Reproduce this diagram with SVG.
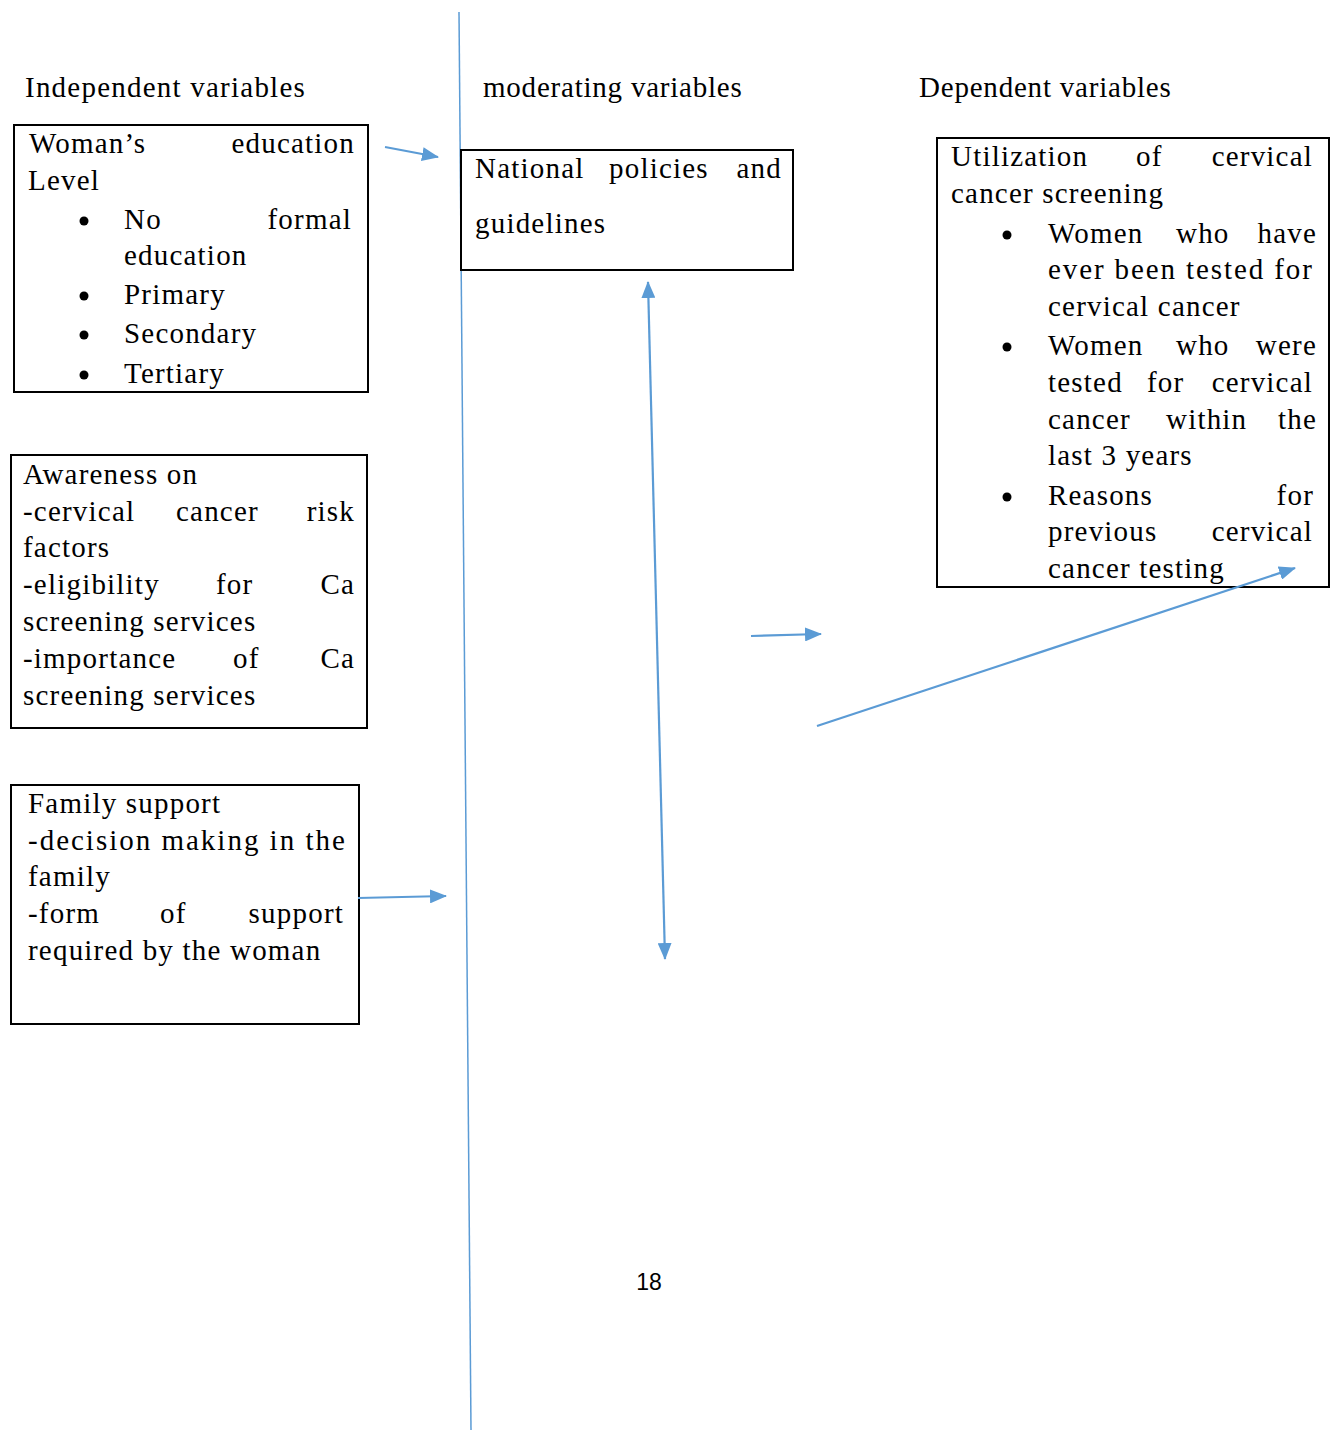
<svg xmlns="http://www.w3.org/2000/svg" width="1333" height="1431" viewBox="0 0 1333 1431">
<style>
.t{font-family:"Liberation Serif","Times New Roman",serif;font-size:29px;fill:#000;letter-spacing:1.2px}
.e{text-anchor:end}
.box{fill:#fff;stroke:#000;stroke-width:2}
.c{stroke:#5B9BD5;stroke-width:2.2;fill:none}
.b{fill:#000}
</style>
<defs>
<marker id="ah" markerUnits="userSpaceOnUse" markerWidth="18" markerHeight="14" refX="16" refY="7" orient="auto-start-reverse">
<path d="M0,0 L17,7 L0,14 Z" fill="#5B9BD5"/>
</marker>
</defs>
<rect width="1333" height="1431" fill="#fff"/>
<line x1="459" y1="12" x2="471" y2="1430" stroke="#5B9BD5" stroke-width="1.5"/>

<g id="headers">
<text class="t" x="25" y="97" textLength="281">Independent variables</text>
<text class="t" x="483" y="97" textLength="260">moderating variables</text>
<text class="t" x="919" y="97" textLength="253">Dependent variables</text>
</g>

<g id="node-education">
<rect class="box" x="14" y="125" width="354" height="267"/>
<text class="t" x="29" y="153">Woman’s</text><text class="t e" x="355" y="153">education</text>
<text class="t" x="28" y="190">Level</text>
<circle class="b" cx="84" cy="221" r="4.5"/><text class="t" x="124" y="229">No</text><text class="t e" x="352" y="229">formal</text>
<text class="t" x="124" y="265">education</text>
<circle class="b" cx="84" cy="296" r="4.5"/><text class="t" x="124" y="304">Primary</text>
<circle class="b" cx="84" cy="335" r="4.5"/><text class="t" x="124" y="343">Secondary</text>
<circle class="b" cx="84" cy="375" r="4.5"/><text class="t" x="124" y="383">Tertiary</text>
</g>

<g id="node-awareness">
<rect class="box" x="11" y="455" width="356" height="273"/>
<text class="t" x="23" y="484">Awareness on</text>
<text class="t" x="23" y="521">-cervical</text><text class="t" x="176" y="521">cancer</text><text class="t e" x="355" y="521">risk</text>
<text class="t" x="23" y="557">factors</text>
<text class="t" x="23" y="594">-eligibility</text><text class="t" x="216" y="594">for</text><text class="t e" x="355" y="594">Ca</text>
<text class="t" x="23" y="631">screening services</text>
<text class="t" x="23" y="668">-importance</text><text class="t" x="233" y="668">of</text><text class="t e" x="355" y="668">Ca</text>
<text class="t" x="23" y="705">screening services</text>
</g>

<g id="node-family">
<rect class="box" x="11" y="785" width="348" height="239"/>
<text class="t" x="28" y="813">Family support</text>
<text class="t" x="28" y="850" textLength="318">-decision making in the</text>
<text class="t" x="28" y="886">family</text>
<text class="t" x="28" y="923">-form</text><text class="t" x="160" y="923">of</text><text class="t e" x="344" y="923">support</text>
<text class="t" x="28" y="960">required by the woman</text>
</g>

<g id="node-policies">
<rect class="box" x="461" y="150" width="332" height="120"/>
<text class="t" x="475" y="178">National</text><text class="t" x="609" y="178">policies</text><text class="t e" x="782" y="178">and</text>
<text class="t" x="475" y="233">guidelines</text>
</g>

<g id="node-utilization">
<rect class="box" x="937" y="138" width="392" height="449"/>
<text class="t" x="951" y="166">Utilization</text><text class="t" x="1136" y="166">of</text><text class="t e" x="1313" y="166">cervical</text>
<text class="t" x="951" y="203">cancer screening</text>
<circle class="b" cx="1007" cy="235" r="4.5"/>
<text class="t" x="1048" y="243">Women</text><text class="t" x="1176" y="243">who</text><text class="t e" x="1317" y="243">have</text>
<text class="t" x="1048" y="279" textLength="265">ever been tested for</text>
<text class="t" x="1048" y="316">cervical cancer</text>
<circle class="b" cx="1007" cy="347" r="4.5"/>
<text class="t" x="1048" y="355">Women</text><text class="t" x="1176" y="355">who</text><text class="t e" x="1317" y="355">were</text>
<text class="t" x="1048" y="392">tested</text><text class="t" x="1147" y="392">for</text><text class="t e" x="1313" y="392">cervical</text>
<text class="t" x="1048" y="429">cancer</text><text class="t" x="1166" y="429">within</text><text class="t e" x="1317" y="429">the</text>
<text class="t" x="1048" y="465">last 3 years</text>
<circle class="b" cx="1007" cy="497" r="4.5"/>
<text class="t" x="1048" y="505">Reasons</text><text class="t e" x="1314" y="505">for</text>
<text class="t" x="1048" y="541">previous</text><text class="t e" x="1313" y="541">cervical</text>
<text class="t" x="1048" y="578">cancer testing</text>
</g>

<g id="connectors">
<line class="c" x1="385" y1="147" x2="438" y2="157" marker-end="url(#ah)"/>
<line class="c" x1="358" y1="898" x2="446" y2="896" marker-end="url(#ah)"/>
<line class="c" x1="648" y1="282" x2="665" y2="959" marker-start="url(#ah)" marker-end="url(#ah)"/>
<line class="c" x1="751" y1="636" x2="821" y2="634" marker-end="url(#ah)"/>
<line class="c" x1="817" y1="726" x2="1295" y2="568" marker-end="url(#ah)"/>
</g>

<text x="649" y="1290" text-anchor="middle" font-family="Liberation Sans, Arial, sans-serif" font-size="23">18</text>
</svg>
